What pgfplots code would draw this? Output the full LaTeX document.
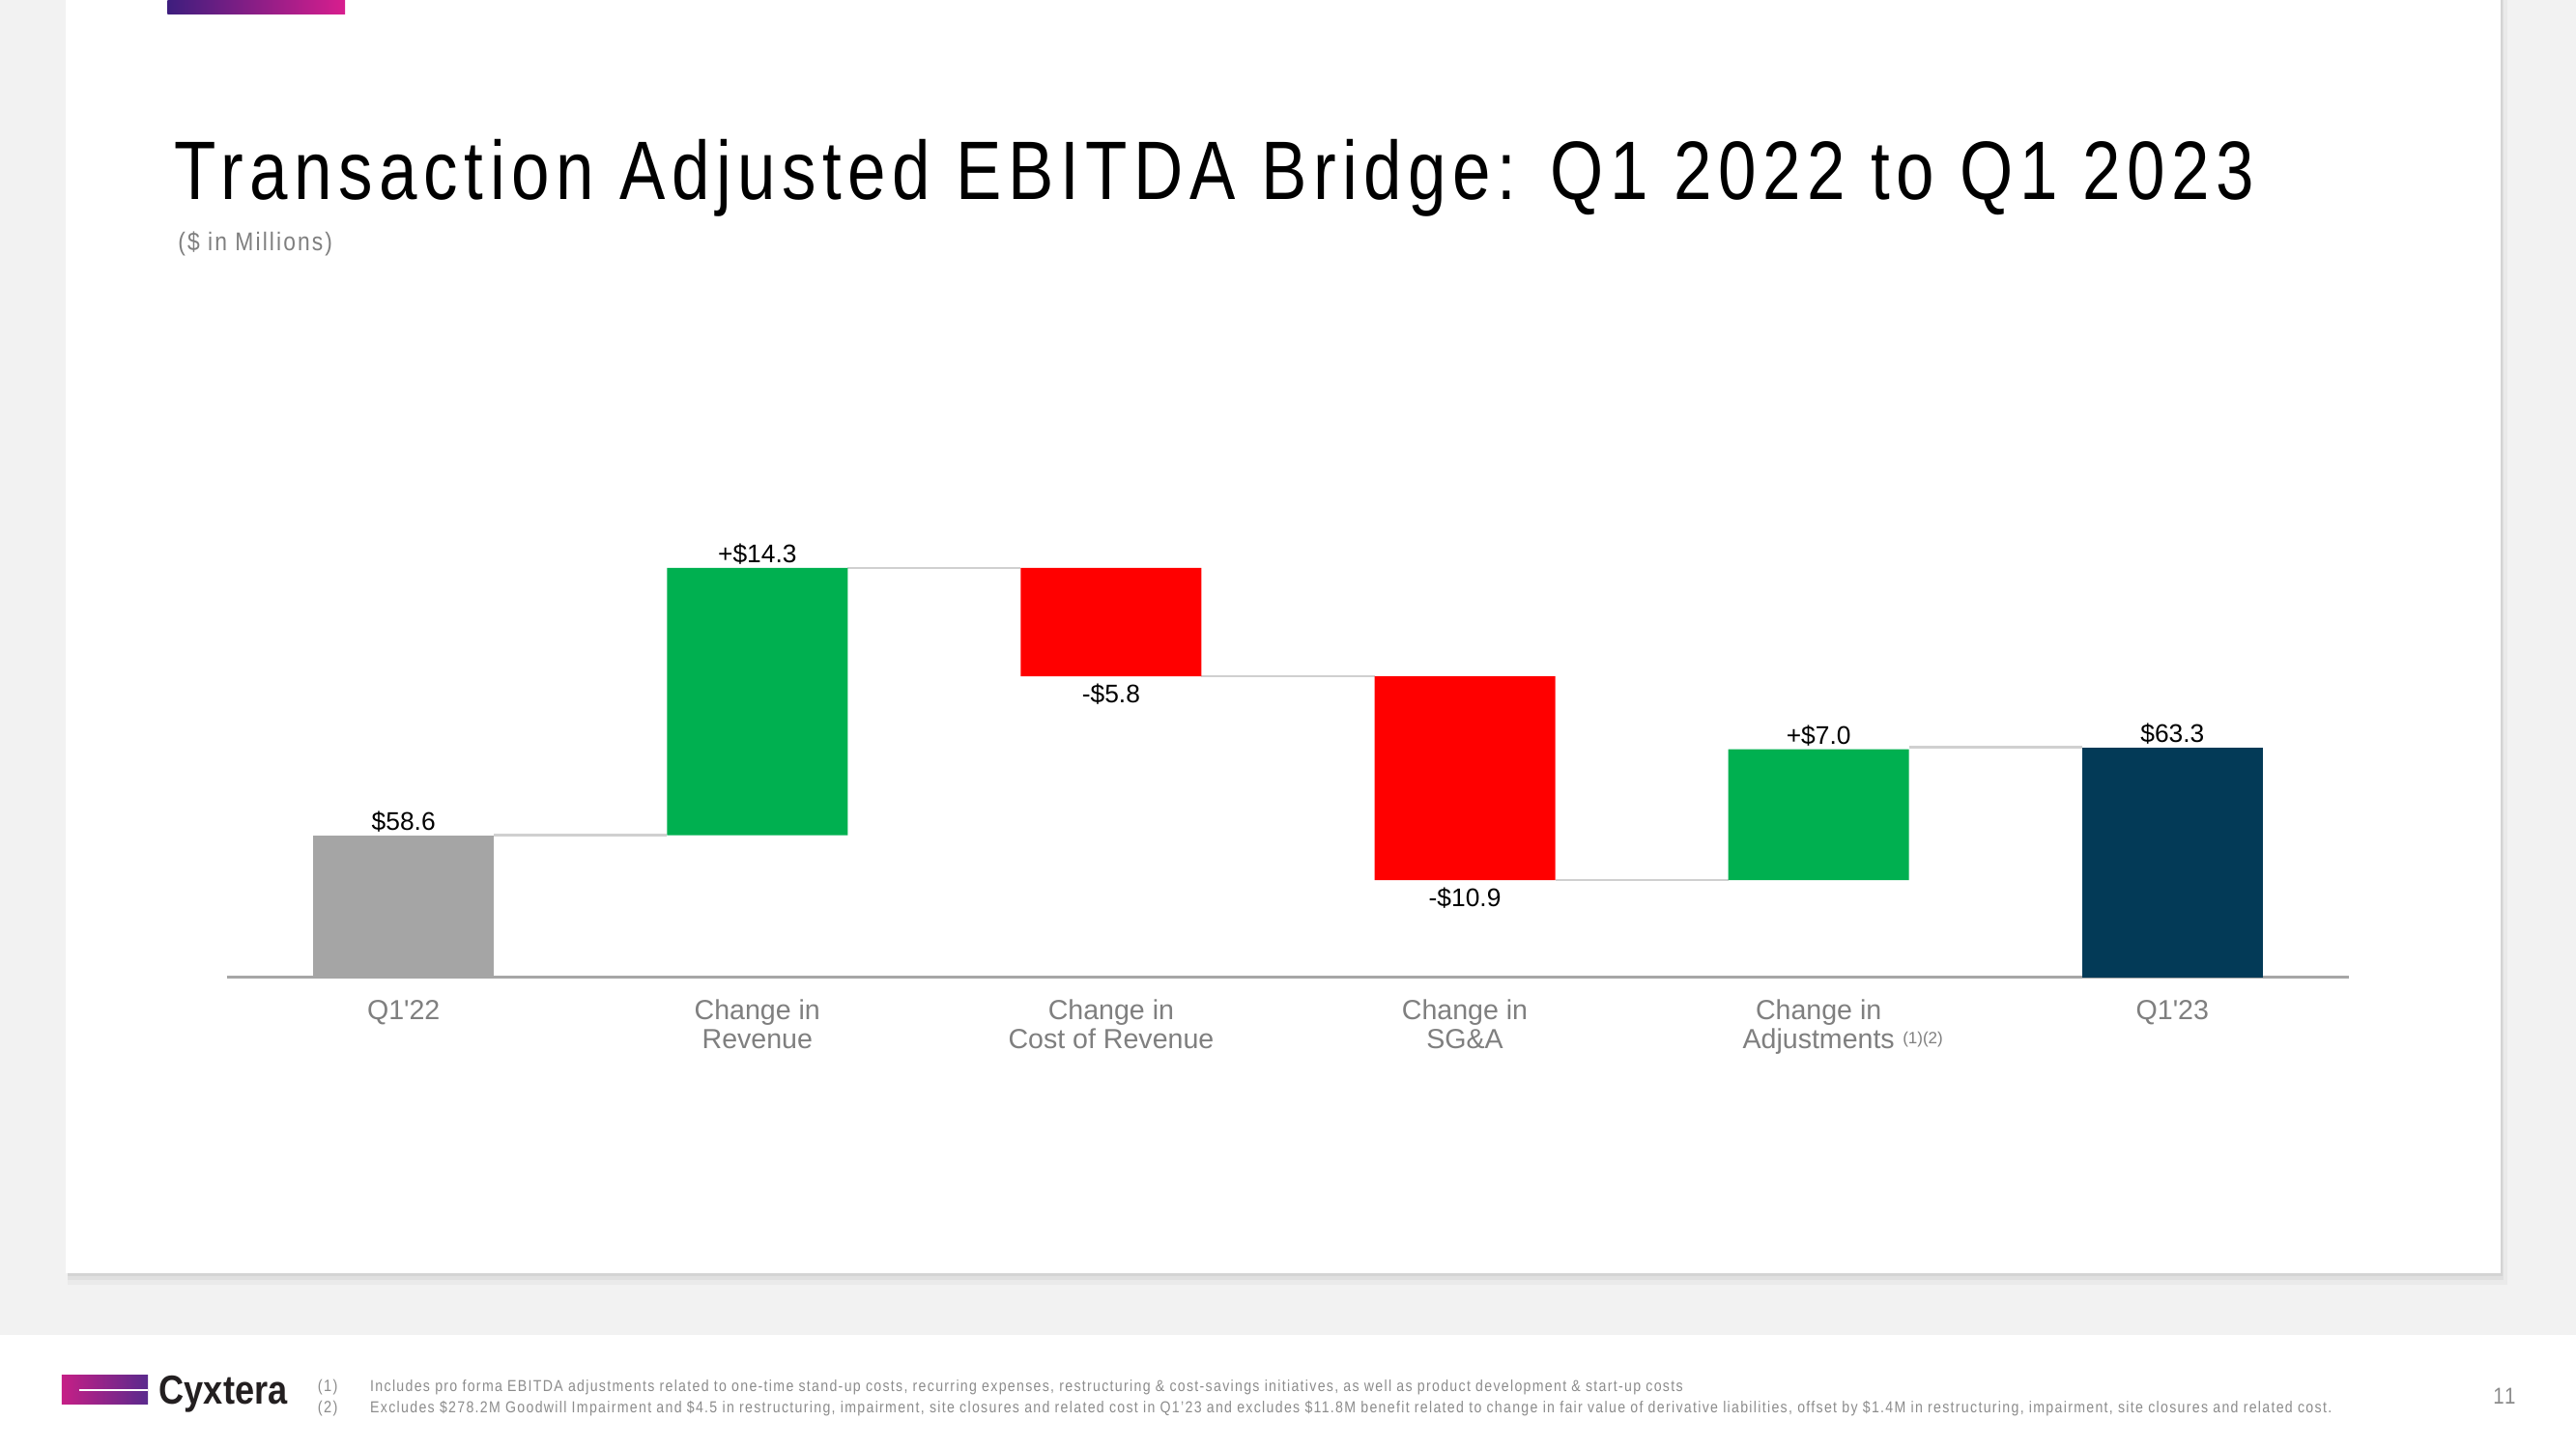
\documentclass[border=0pt]{standalone}
\usepackage{fontspec}
\setmainfont{Liberation Sans}
\newfontfamily\narrowfont{Liberation Sans}[FakeStretch=0.86, LetterSpace=8]
\usepackage{graphicx}
\usepackage{pgfplots}
\pgfplotsset{compat=1.18}
\definecolor{bg}{HTML}{F2F2F2}
\definecolor{barGray}{HTML}{A5A5A5}
\definecolor{barGreen}{HTML}{00B050}
\definecolor{barRed}{HTML}{FF0000}
\definecolor{barNavy}{HTML}{033A57}
\definecolor{conn}{HTML}{D0D0D0}
\definecolor{axisgray}{HTML}{A6A6A6}
\definecolor{catgray}{HTML}{7F7F7F}
\definecolor{subgray}{HTML}{7F7F7F}
\definecolor{footgray}{HTML}{8C8C8C}
\definecolor{gradA}{HTML}{3E1E7E}
\definecolor{gradM}{HTML}{A61F8A}
\definecolor{gradB}{HTML}{D81E8E}
\definecolor{logoA}{HTML}{C51F86}
\definecolor{logoB}{HTML}{5A2A8D}
\definecolor{logotext}{HTML}{231F20}
\newcommand\catfont{\fontsize{8.4}{8.8}\selectfont}
\newcommand\valfont{\fontsize{7.75}{9}\selectfont}
\begin{document}
\begin{tikzpicture}[x=0.5pt,y=-0.5pt]
\path[use as bounding box] (0,0) rectangle (1568,882);
\fill[bg] (0,0) rectangle (1568,882);
\fill[white] (0,813) rectangle (1568,882);
% card shadow
\fill[black, opacity=0.03] (41,0) rectangle (1526,782);
\fill[black, opacity=0.04] (41,0) rectangle (1524,779);
\fill[black, opacity=0.05] (41,0) rectangle (1523,777);
\fill[white] (40,0) rectangle (1522,775);
% top gradient bar
\shade[left color=gradA, middle color=gradM, right color=gradB] (102,0) rectangle (210,8.6);
% title
\node[anchor=base west, inner sep=0pt] at (106,121.2)
  {\resizebox{633pt}{18.3pt}{\fontsize{25}{30}\narrowfont Transaction Adjusted EBITDA Bridge: Q1 2022 to Q1 2023}};
\node[anchor=base west, inner sep=0pt, text=subgray] at (108,152.5)
  {\resizebox{47pt}{!}{\fontsize{9.3}{11}\narrowfont (\$ in Millions)}};
% footer logo
\shade[left color=logoA, right color=logoB] (37.6,837) rectangle (90,855);
\draw[white, line width=0.6pt] (48,846.5) -- (90,846.5);
\node[anchor=base west, inner sep=0pt, text=logotext] at (96.5,855)
  {\resizebox{39pt}{8.6pt}{\bfseries Cyxtera}};
% footnotes
\node[anchor=base west, inner sep=0pt, text=footgray] at (193,847) {\fontsize{5}{6}\narrowfont (1)};
\node[anchor=base west, inner sep=0pt, text=footgray] at (193,860) {\fontsize{5}{6}\narrowfont (2)};
\node[anchor=base west, inner sep=0pt, text=footgray] at (225,847)
  {\resizebox{399.5pt}{!}{\fontsize{5}{6}\narrowfont Includes pro forma EBITDA adjustments related to one-time stand-up costs, recurring expenses, restructuring \& cost-savings initiatives, as well as product development \& start-up costs}};
\node[anchor=base west, inner sep=0pt, text=footgray] at (225,860)
  {\resizebox{597pt}{!}{\fontsize{5}{6}\narrowfont Excludes \$278.2M Goodwill Impairment and \$4.5 in restructuring, impairment, site closures and related cost in Q1’23 and excludes \$11.8M benefit related to change in fair value of derivative liabilities, offset by \$1.4M in restructuring, impairment, site closures and related cost.}};
\node[anchor=base, inner sep=0pt, text=footgray] at (1524.5,855) {\fontsize{7}{8}\narrowfont 11};
% chart
\begin{axis}[
  at={(69pt,-297.5pt)}, anchor=south west,
  scale only axis, width=646pt, height=147.5pt,
  xmin=-0.5, xmax=5.5, ymin=51, ymax=76.92,
  ybar stacked, bar width=0.511,
  axis y line=none, axis x line*=bottom,
  x axis line style={draw=axisgray, line width=0.8pt, -},
  xtick={0,1,2,3,4,5}, major tick length=0pt, ytick=\empty,
  xticklabels={Q1\textquotesingle22, {Change in\\Revenue}, {Change in\\Cost of Revenue}, {Change in\\SG\&A}, {Change in\\Adjustments\rlap{\hspace{2.5pt}\raisebox{1.5pt}{\fontsize{5}{6}\selectfont(1)(2)}}}, Q1\textquotesingle23},
  xticklabel style={font=\catfont, text=catgray, align=center, anchor=north, inner sep=0pt, yshift=-6.7pt},
]
\addplot[draw=none, fill=none] coordinates {(0,0) (1,58.6) (2,67.1) (3,56.2) (4,56.2) (5,0)};
\addplot[draw=none, fill=barGray] coordinates {(0,58.6) (1,0) (2,0) (3,0) (4,0) (5,0)};
\addplot[draw=none, fill=barGreen] coordinates {(0,0) (1,14.3) (2,0) (3,0) (4,7.0) (5,0)};
\addplot[draw=none, fill=barRed] coordinates {(0,0) (1,0) (2,5.8) (3,10.9) (4,0) (5,0)};
\addplot[draw=none, fill=barNavy] coordinates {(0,0) (1,0) (2,0) (3,0) (4,0) (5,63.3)};
% connectors
\addplot[stack plots=false, sharp plot, draw=conn, line width=0.7pt, forget plot] coordinates {(0.2555,58.6) (0.7445,58.6)};
\addplot[stack plots=false, sharp plot, draw=conn, line width=0.7pt, forget plot] coordinates {(1.2555,72.9) (1.7445,72.9)};
\addplot[stack plots=false, sharp plot, draw=conn, line width=0.7pt, forget plot] coordinates {(2.2555,67.1) (2.7445,67.1)};
\addplot[stack plots=false, sharp plot, draw=conn, line width=0.7pt, forget plot] coordinates {(3.2555,56.2) (3.7445,56.2)};
\addplot[stack plots=false, sharp plot, draw=conn, line width=0.7pt, forget plot] coordinates {(4.2555,63.3) (4.7445,63.3)};
% value labels
\node[font=\valfont, anchor=base, yshift=1.5pt] at (axis cs:0,58.6) {\$58.6};
\node[font=\valfont, anchor=base, yshift=1.5pt] at (axis cs:1,72.9) {+\$14.3};
\node[font=\valfont, anchor=base, yshift=-8pt] at (axis cs:2,67.1) {-\$5.8};
\node[font=\valfont, anchor=base, yshift=-8pt] at (axis cs:3,56.2) {-\$10.9};
\node[font=\valfont, anchor=base, yshift=1.5pt] at (axis cs:4,63.2) {+\$7.0};
\node[font=\valfont, anchor=base, yshift=1.5pt] at (axis cs:5,63.3) {\$63.3};
\end{axis}
\end{tikzpicture}
\end{document}
